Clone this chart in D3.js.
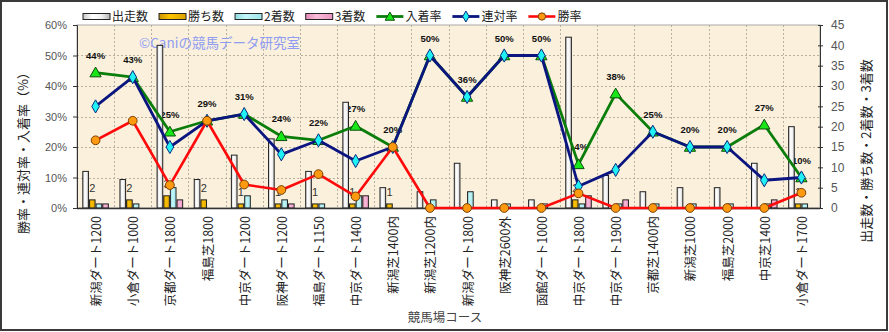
<!DOCTYPE html>
<html>
<head>
<meta charset="utf-8">
<script src="https://cdn.jsdelivr.net/npm/d3@7"></script>
<style>
  html, body { margin: 0; padding: 0; background: #fff; }
  svg { display: block; }
  .cjk { font-family: "Noto Sans CJK JP", "Noto Sans", sans-serif; }
  .lat { font-family: "Liberation Sans", Arial, sans-serif; }
</style>
</head>
<body>
<svg id="chart" width="889" height="332"></svg>
<script>
// Courses (x categories)
const courses = [
  "新潟ダート1200", "小倉ダート1000", "京都ダート1800", "福島芝1800", "中京ダート1200",
  "阪神ダート1200", "福島ダート1150", "中京ダート1400", "新潟芝1400内", "新潟芝1200内",
  "新潟ダート1800", "阪神芝2600外", "函館ダート1000", "中京ダート1800", "中京ダート1900",
  "京都芝1400内", "新潟芝1000", "福島芝2000", "中京芝1400", "小倉ダート1700"
];

// Counts (right axis)
const starts  = [9, 7, 40, 7, 13, 17, 9, 26, 5, 4, 11, 2, 2, 42, 8, 4, 5, 5, 11, 20];
const wins    = [2, 2, 3, 2, 1, 1, 1, 1, 1, 0, 0, 0, 0, 2, 0, 0, 0, 0, 0, 1];
const seconds = [1, 1, 5, 0, 3, 2, 1, 3, 0, 2, 4, 1, 1, 1, 1, 1, 1, 1, 1, 1];
const thirds  = [1, 0, 2, 0, 0, 1, 0, 3, 0, 0, 0, 0, 0, 3, 2, 0, 0, 0, 2, 0];

// Rates in % (left axis)
const placeRate  = [44.4, 42.9, 25.0, 28.6, 30.8, 23.5, 22.2, 26.9, 20.0, 50.0, 36.4, 50.0, 50.0, 14.3, 37.5, 25.0, 20.0, 20.0, 27.3, 10.0];
const rentaiRate = [33.3, 42.9, 20.0, 28.6, 30.8, 17.6, 22.2, 15.4, 20.0, 50.0, 36.4, 50.0, 50.0, 7.1, 12.5, 25.0, 20.0, 20.0, 9.1, 10.0];
const winRate    = [22.2, 28.6, 7.5, 28.6, 7.7, 5.9, 11.1, 3.8, 20.0, 0, 0, 0, 0, 4.8, 0, 0, 0, 0, 0, 5.0];

// Axis ticks
const leftTicks  = [0, 10, 20, 30, 40, 50, 60];
const rightTicks = [0, 5, 10, 15, 20, 25, 30, 35, 40, 45];

const svg = d3.select("#chart");
const W = 889, H = 332;
const plot = { left: 77, right: 820, top: 25, bottom: 208 };

// Outer frame
svg.append("rect").attr("x", 1).attr("y", 1).attr("width", W - 3).attr("height", H - 3)
  .attr("fill", "#fff").attr("stroke", "#3a3a3a").attr("stroke-width", 2);

const defs = svg.append("defs");
function hGrad(id, stops) {
  const g = defs.append("linearGradient").attr("id", id).attr("x1", "0%").attr("x2", "100%").attr("y1", "0%").attr("y2", "0%");
  stops.forEach(([o, c]) => g.append("stop").attr("offset", o).attr("stop-color", c));
}
hGrad("gStarts", [["0%", "#c8c8c8"], ["35%", "#ffffff"], ["70%", "#f0f0f0"], ["100%", "#b4b4b4"]]);
hGrad("gWins",   [["0%", "#c99400"], ["40%", "#ffc400"], ["100%", "#d9a200"]]);
hGrad("gSec",    [["0%", "#8fdce2"], ["40%", "#c4f6f8"], ["100%", "#9ee4ea"]]);
hGrad("gThird",  [["0%", "#e58ab8"], ["40%", "#f9bcd9"], ["100%", "#e996c2"]]);

const x = d3.scaleBand().domain(courses).range([plot.left, plot.right]);
const yL = d3.scaleLinear().domain([0, 60]).range([plot.bottom, plot.top]);
const yR = d3.scaleLinear().domain([0, 45]).range([plot.bottom, plot.top]);

const barKeys = ["starts", "wins", "seconds", "thirds"];
const groupW = x.bandwidth() * 0.715;
const xi = d3.scaleBand().domain(barKeys).range([0, groupW]);
const barOffset = (x.bandwidth() - groupW) / 2;

// Plot background
svg.append("rect").attr("x", plot.left).attr("y", plot.top)
  .attr("width", plot.right - plot.left).attr("height", plot.bottom - plot.top)
  .attr("fill", "#faf0dc").attr("stroke", "#a8a8a8").attr("stroke-width", 1);

// Gridlines
const grid = svg.append("g").attr("stroke", "#b8b0a0").attr("stroke-dasharray", "2,2").attr("stroke-width", 1);
leftTicks.filter(t => t > 0 && t < 60).forEach(t => {
  grid.append("line").attr("x1", plot.left).attr("x2", plot.right)
    .attr("y1", Math.round(yL(t)) + 0.5).attr("y2", Math.round(yL(t)) + 0.5);
});
courses.slice(1).forEach(c => {
  const gx = Math.round(x(c)) + 0.5;
  grid.append("line").attr("x1", gx).attr("x2", gx).attr("y1", plot.top).attr("y2", plot.bottom);
});

// Watermark
svg.append("text").attr("class", "cjk").attr("x", 139).attr("y", 48)
  .attr("font-size", 13.5).attr("fill", "#8f9cf2")
  .text("©Caniの競馬データ研究室");

// Percent labels of 入着率
const labelG = svg.append("g");
courses.forEach((c, i) => {
  labelG.append("text").attr("class", "lat")
    .attr("x", x(c) + x.bandwidth() / 2).attr("y", yL(placeRate[i]) - 14)
    .attr("text-anchor", "middle").attr("font-size", 9.5).attr("font-weight", "bold")
    .attr("fill", "#111").text(Math.round(placeRate[i]) + "%");
});

// Bars
const barData = courses.map((c, i) => ({ c, starts: starts[i], wins: wins[i], seconds: seconds[i], thirds: thirds[i] }));
const fills = { starts: "url(#gStarts)", wins: "url(#gWins)", seconds: "url(#gSec)", thirds: "url(#gThird)" };
const barG = svg.append("g");
barData.forEach(d => {
  barKeys.forEach(k => {
    if (d[k] <= 0) return;
    barG.append("rect")
      .attr("x", x(d.c) + barOffset + xi(k) + 0.5)
      .attr("y", yR(d[k]))
      .attr("width", xi.bandwidth() - 1)
      .attr("height", yR(0) - yR(d[k]))
      .attr("fill", fills[k]).attr("stroke", "#222").attr("stroke-width", 1);
  });
});

// Win count labels
barData.forEach(d => {
  if (d.wins <= 0) return;
  svg.append("text").attr("class", "lat")
    .attr("x", x(d.c) + barOffset + xi("wins") + xi.bandwidth() / 2)
    .attr("y", yR(d.wins) - 8)
    .attr("text-anchor", "middle").attr("font-size", 11).attr("fill", "#333")
    .text(d.wins);
});

// Axes
const axL = svg.append("g").attr("transform", `translate(${plot.left},0)`)
  .call(d3.axisLeft(yL).tickValues(leftTicks).tickFormat(d => d + "%").tickSize(4).tickPadding(6));
const axR = svg.append("g").attr("transform", `translate(${plot.right},0)`)
  .call(d3.axisRight(yR).tickValues(rightTicks).tickSize(3).tickPadding(8));
[axL, axR].forEach(a => {
  a.selectAll("path").attr("stroke", "#333");
  a.selectAll("line").attr("stroke", "#333");
  a.selectAll("text").attr("class", "lat").attr("fill", "#555");
});
axL.selectAll("text").attr("font-size", 11);
axR.selectAll("text").attr("font-size", 12);
axR.selectAll(".tick line").attr("x1", -2);

svg.append("line").attr("x1", plot.left).attr("x2", plot.right)
  .attr("y1", plot.bottom + 0.5).attr("y2", plot.bottom + 0.5).attr("stroke", "#333").attr("stroke-width", 1.5);

// Category labels (rotated)
courses.forEach(c => {
  svg.append("text").attr("class", "cjk")
    .attr("transform", `translate(${x(c) + x.bandwidth() / 2},216) rotate(-90)`)
    .attr("text-anchor", "end").attr("dominant-baseline", "central")
    .attr("font-size", 12.5).attr("fill", "#222").text(c);
});

// Lines and markers
const cx = i => x(courses[i]) + x.bandwidth() / 2;
const lineGen = d3.line().x((d, i) => cx(i)).y(d => yL(d));

const series = [
  { key: "入着率", values: placeRate,  stroke: "#0a7d0a", width: 2.8, marker: "triangle", fill: "#19e619", mstroke: "#0b4d0b" },
  { key: "連対率", values: rentaiRate, stroke: "#0b1580", width: 2.8, marker: "diamond",  fill: "#1ff1f5", mstroke: "#0b2c80" },
  { key: "勝率",   values: winRate,    stroke: "#ff0a0a", width: 2.6, marker: "circle",   fill: "#ff9a10", mstroke: "#7a3f00" }
];
const symType = { triangle: d3.symbolTriangle, diamond: d3.symbolDiamond, circle: d3.symbolCircle };
const symSize = { triangle: 55, diamond: 50, circle: 60 };

function drawMarker(g, s, px, py) {
  g.append("path").attr("d", d3.symbol().type(symType[s.marker]).size(symSize[s.marker])())
    .attr("transform", `translate(${px},${py + (s.marker === "triangle" ? 1 : 0)})`)
    .attr("fill", s.fill).attr("stroke", s.mstroke).attr("stroke-width", 1);
}

series.forEach(s => {
  const g = svg.append("g");
  g.append("path").datum(s.values).attr("d", lineGen)
    .attr("fill", "none").attr("stroke", s.stroke).attr("stroke-width", s.width).attr("stroke-linejoin", "round");
  s.values.forEach((v, i) => drawMarker(g, s, cx(i), yL(v)));
});

// Legend
const legend = svg.append("g");
const legendItems = [
  { label: "出走数", type: "bar", fill: "url(#gStarts)" },
  { label: "勝ち数", type: "bar", fill: "url(#gWins)" },
  { label: "2着数",  type: "bar", fill: "url(#gSec)" },
  { label: "3着数",  type: "bar", fill: "url(#gThird)" },
  { label: "入着率", type: "line", s: series[0] },
  { label: "連対率", type: "line", s: series[1] },
  { label: "勝率",   type: "line", s: series[2] }
];
let lx = 83;
legendItems.forEach(it => {
  if (it.type === "bar") {
    legend.append("rect").attr("x", lx).attr("y", 13.5).attr("width", 27).attr("height", 6)
      .attr("fill", it.fill).attr("stroke", "#222").attr("stroke-width", 1);
  } else {
    legend.append("line").attr("x1", lx).attr("x2", lx + 27).attr("y1", 16.5).attr("y2", 16.5)
      .attr("stroke", it.s.stroke).attr("stroke-width", it.s.width);
    const ms = { ...it.s };
    legend.append("path").attr("d", d3.symbol().type(symType[ms.marker]).size(symSize[ms.marker] * 0.7)())
      .attr("transform", `translate(${lx + 13.5},${16.5 + (ms.marker === "triangle" ? 1 : 0)})`)
      .attr("fill", ms.fill).attr("stroke", ms.mstroke).attr("stroke-width", 1);
  }
  const t = legend.append("text").attr("class", "cjk").attr("x", lx + 29).attr("y", 21)
    .attr("font-size", 12).attr("fill", "#222").text(it.label);
  lx += 29 + t.node().getComputedTextLength() + 11;
});

// Axis titles
svg.append("text").attr("class", "cjk")
  .attr("transform", "translate(22,150) rotate(-90)")
  .attr("text-anchor", "middle").attr("dominant-baseline", "central")
  .attr("font-size", 13).attr("fill", "#222").text("勝率・連対率・入着率（%）");
svg.append("text").attr("class", "cjk")
  .attr("transform", "translate(865,151) rotate(-90)")
  .attr("text-anchor", "middle").attr("dominant-baseline", "central")
  .attr("font-size", 13).attr("fill", "#222").text("出走数・勝ち数・2着数・3着数");
svg.append("text").attr("class", "cjk")
  .attr("x", 445).attr("y", 322).attr("text-anchor", "middle")
  .attr("font-size", 12.5).attr("fill", "#444").text("競馬場コース");
</script>
</body>
</html>
